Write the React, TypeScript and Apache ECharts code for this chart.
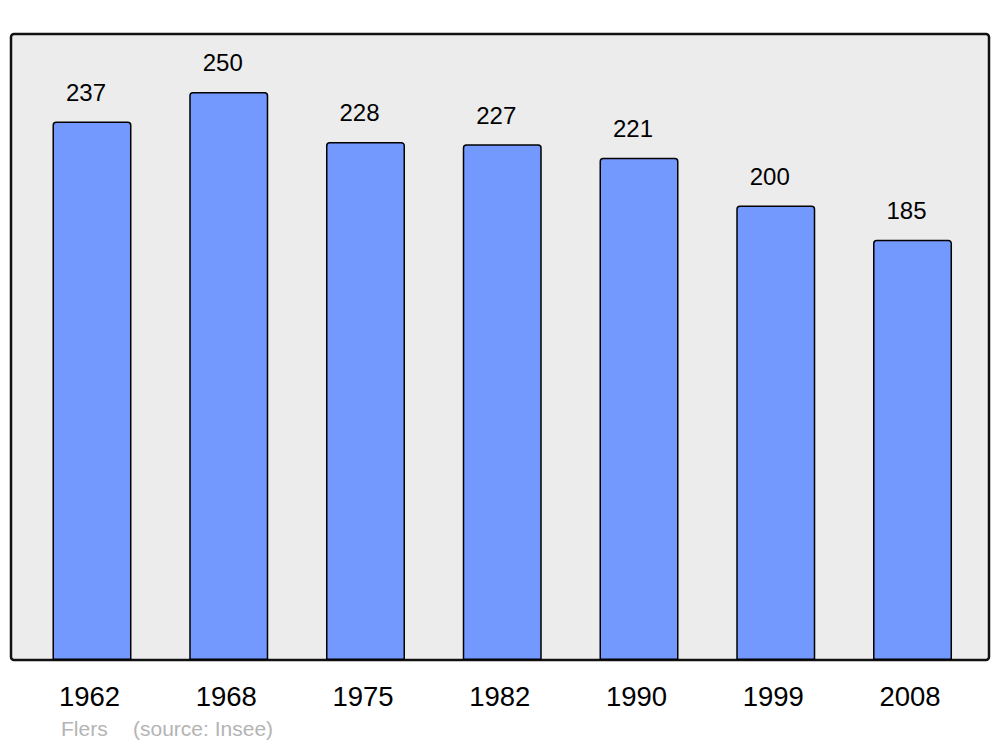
import React, { useEffect, useRef } from "react";
import * as echarts from "echarts";

const years = ["1962", "1968", "1975", "1982", "1990", "1999", "2008"];
const population = [237, 250, 228, 227, 221, 200, 185];
const footerCommune = "Flers";
const footerSource = "(source: Insee)";

export default function App() {
  const ref = useRef<HTMLDivElement>(null);
  useEffect(() => {
    const chart = echarts.init(ref.current!, null, { renderer: "svg" });
    chart.setOption({
      animation: false,
      backgroundColor: "#ffffff",
      grid: { left: 23.6, right: 19.1, top: 34, bottom: 87, containLabel: false },
      xAxis: {
        type: "category",
        data: years,
        axisLine: { show: false },
        axisTick: { show: false },
        axisLabel: {
          color: "#000",
          fontSize: 27.5,
          fontFamily: "Liberation Sans, Arial, sans-serif",
          margin: 22,
          padding: [0, 5, 0, 0],
        },
      },
      yAxis: {
        type: "value",
        min: 0,
        max: 275.5,
        show: false,
        splitLine: { show: false },
      },
      graphic: [
        {
          type: "rect",
          shape: { x: 11, y: 34, width: 978, height: 626, r: 3 },
          style: { fill: "#ececec", stroke: "#111", lineWidth: 2.5 },
          z: -10,
          silent: true,
        },
        {
          type: "text",
          x: 61,
          y: 739,
          style: {
            text: footerCommune,
            fill: "#b4b4b4",
            fontSize: 21,
            fontFamily: "Liberation Sans, Arial, sans-serif",
            textVerticalAlign: "bottom",
          },
        },
        {
          type: "text",
          x: 133,
          y: 739,
          style: {
            text: footerSource,
            fill: "#b4b4b4",
            fontSize: 21,
            fontFamily: "Liberation Sans, Arial, sans-serif",
            textVerticalAlign: "bottom",
          },
        },
      ],
      series: [
        {
          type: "bar",
          data: population,
          barWidth: 79,
          z: 5,
          itemStyle: {
            color: "#7399ff",
            borderColor: "#000",
            borderWidth: 1.5,
            borderRadius: [3, 3, 0, 0],
          },
          label: {
            show: true,
            position: "top",
            distance: 17,
            offset: [-6, 0],
            color: "#000",
            fontSize: 24,
            fontFamily: "Liberation Sans, Arial, sans-serif",
          },
        },
      ],
    });
    return () => chart.dispose();
  }, []);
  return (
    <div
      ref={ref}
      style={{ position: "fixed", left: 0, top: 0, width: 1000, height: 747 }}
    />
  );
}
